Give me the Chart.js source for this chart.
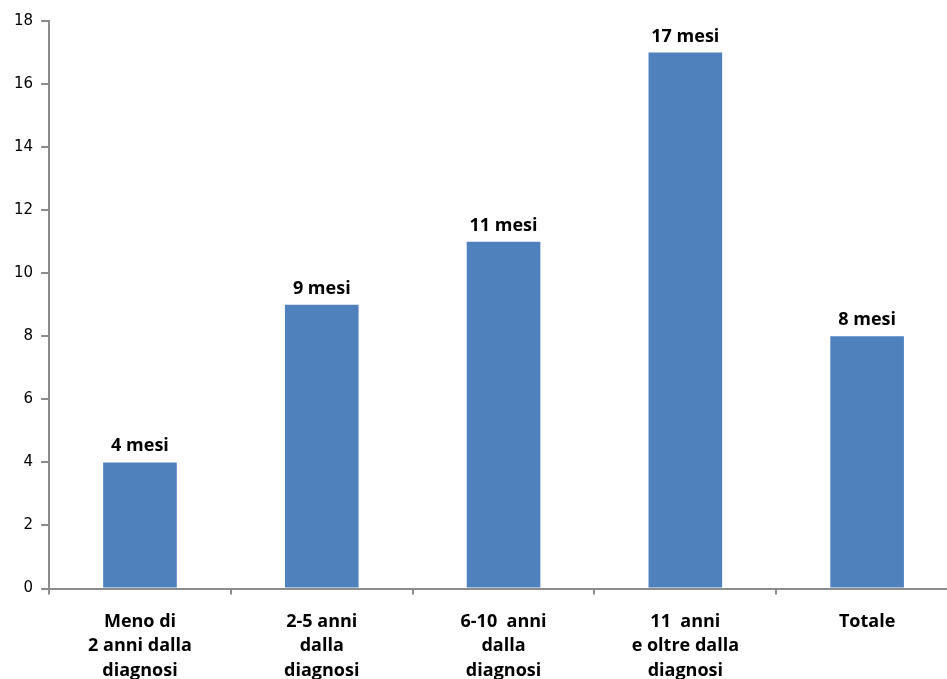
<!DOCTYPE html>
<html><head><meta charset="utf-8">
<script src="https://cdn.jsdelivr.net/npm/chart.js@4/dist/chart.umd.min.js"></script>
<style>html,body{margin:0;padding:0;overflow:hidden;background:#fff;width:947px;height:679px}
#wrap{position:absolute;left:0;top:0;width:958px;height:700px}</style>
</head><body>
<div id="wrap"><canvas id="c" width="958" height="700"></canvas></div>
<script>
const categories = [
  ["Meno di", "2 anni dalla", "diagnosi"],
  ["2-5 anni", "dalla", "diagnosi"],
  ["6-10  anni", "dalla", "diagnosi"],
  ["11  anni", "e oltre dalla", "diagnosi"],
  ["Totale"]
];
const values = [4, 9, 11, 17, 8];
const valueLabels = ["4 mesi", "9 mesi", "11 mesi", "17 mesi", "8 mesi"];
const yTicks = [0, 2, 4, 6, 8, 10, 12, 14, 16, 18];

const labelPlugin = {
  id: 'valueLabels',
  afterDatasetsDraw(chart) {
    const ctx = chart.ctx;
    const meta = chart.getDatasetMeta(0);
    ctx.save();
    ctx.font = '700 18px "Open Sans", sans-serif';
    ctx.fillStyle = '#000';
    ctx.textAlign = 'center';
    ctx.textBaseline = 'alphabetic';
    meta.data.forEach((bar, i) => {
      ctx.fillText(valueLabels[i], bar.x, bar.y - 11);
    });
    ctx.restore();
  }
};

new Chart(document.getElementById('c'), {
  type: 'bar',
  data: {
    labels: categories,
    datasets: [{
      data: values,
      backgroundColor: '#4F81BD',
      borderWidth: 0,
      categoryPercentage: 1,
      barPercentage: 0.405
    }]
  },
  options: {
    responsive: false,
    animation: false,
    devicePixelRatio: 1,
    layout: { padding: { top: 21, bottom: 2, left: 6, right: 0 } },
    plugins: { legend: { display: false }, tooltip: { enabled: false } },
    scales: {
      x: {
        grid: { offset: true, drawOnChartArea: false, drawTicks: true, tickLength: 6, color: '#8c8c8c', lineWidth: 2 },
        border: { color: '#8c8c8c', width: 2 },
        ticks: { color: '#000', padding: 15, maxRotation: 0, autoSkip: false,
          font: { family: '"Open Sans", sans-serif', size: 18, weight: '700', lineHeight: 1.36 } }
      },
      y: {
        min: 0, max: 18,
        afterBuildTicks(axis) { axis.ticks = yTicks.map(v => ({ value: v })); },
        grid: { drawOnChartArea: false, drawTicks: true, tickLength: 8, color: '#8c8c8c', lineWidth: 2 },
        border: { color: '#8c8c8c', width: 2 },
        ticks: { color: '#000', padding: 8,
          font: { family: '"DejaVu Sans", sans-serif', size: 15 } }
      }
    }
  },
  plugins: [labelPlugin]
});
</script>
</body></html>
